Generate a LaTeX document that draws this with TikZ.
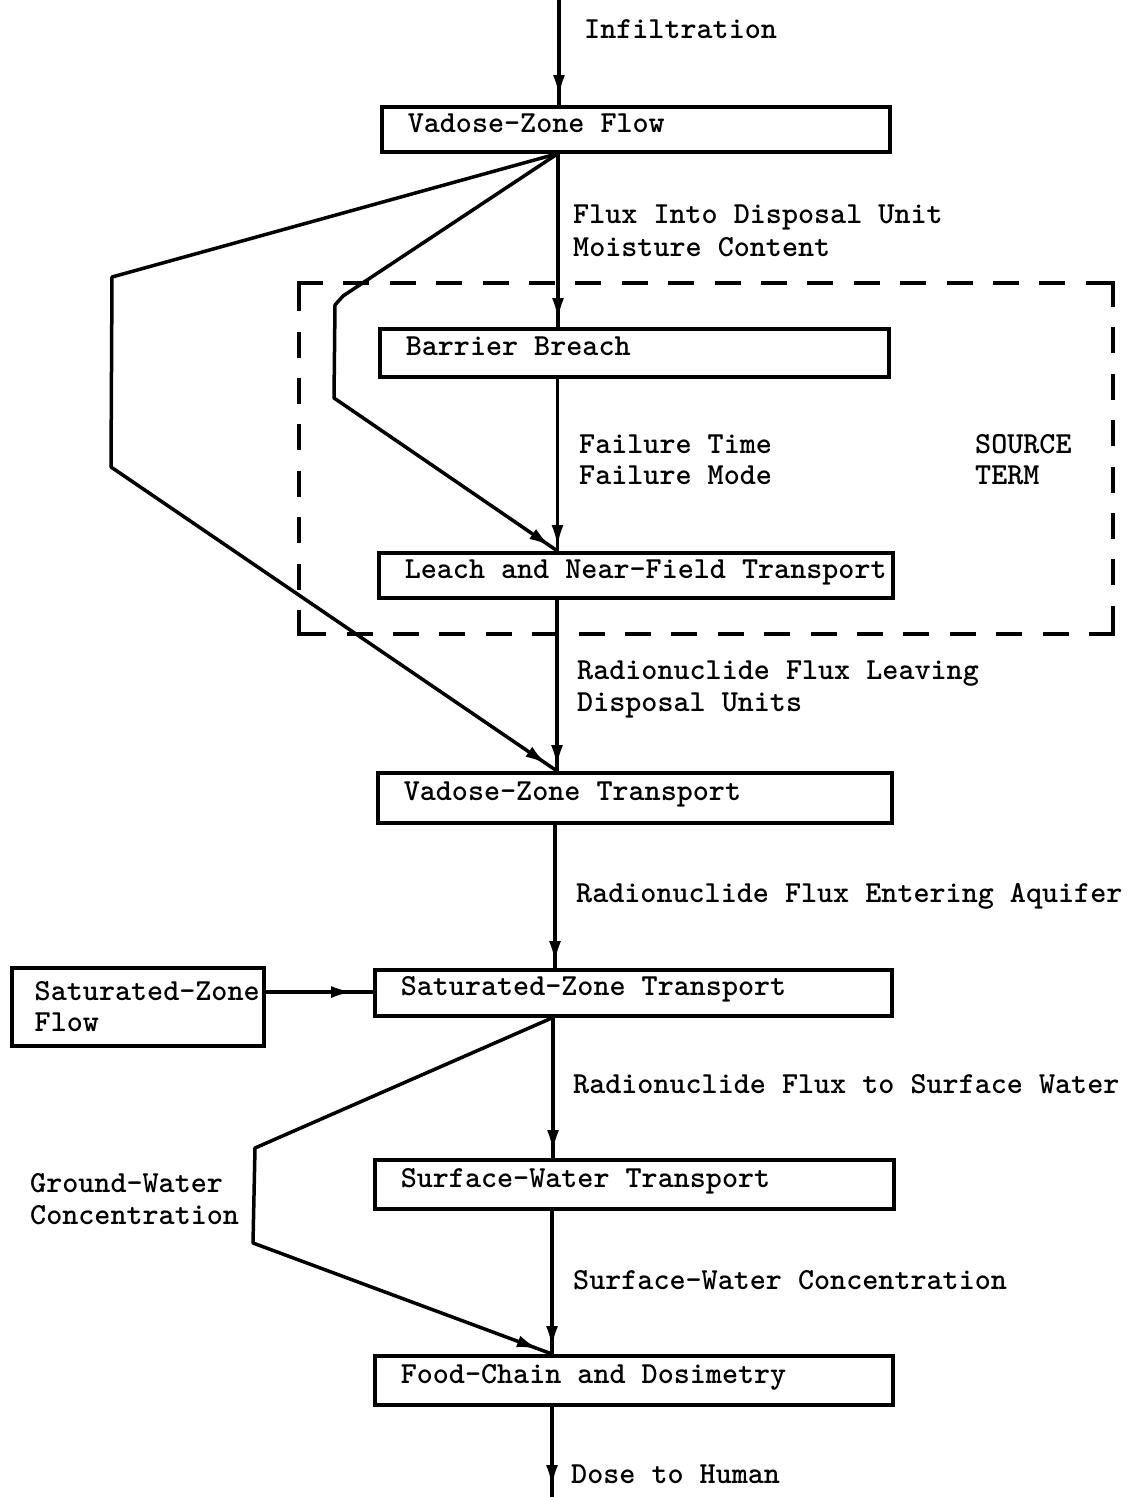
\documentclass[tikz,border=0pt]{standalone}
\usetikzlibrary{arrows.meta,decorations.markings}
\begin{document}
\begin{tikzpicture}[x=1pt,y=-1pt,
  every node/.style={font=\ttfamily\bfseries\fontsize{30.6}{31}\selectfont},
  box/.style={draw, line width=3.5pt, anchor=north west, inner xsep=0pt, inner ysep=0pt,
    align=left, text height=0.78em, text depth=0.16em,
    execute at begin node={\spaceskip=0pt\relax\xspaceskip=0pt\relax\hspace*{26pt}\hbox\bgroup},
    execute at end node={\egroup}},
  lbl/.style={anchor=base west, inner sep=0pt},
  conn/.style={line width=3.5pt},
  arrowat/.style={postaction={decorate,decoration={markings,
    mark=at position #1 with {\arrow{Latex[length=22pt,width=12pt]}}}}},
  dashside/.style={line width=4pt, line cap=rect, dash pattern=on 22pt off 24.4pt},
]
\fill[white] (0,0) rectangle (1133,1497);
\useasboundingbox (0,0) rectangle (1133,1497);

% boxes
\node[box, text width=508pt, minimum height=45pt] (vzf) at (380,105) {Vadose-Zone Flow};
\node[box, text width=509pt, minimum height=48pt] (bb) at (378,327) {Barrier Breach};
\node[box, text width=514pt, minimum height=45pt] (leach) at (377,551) {Leach and Near-Field Transport};
\node[box, text width=514pt, minimum height=50pt] (vzt) at (376,771) {Vadose-Zone Transport};
\node[box, text width=517pt, minimum height=46pt] (szt) at (373,968) {Saturated-Zone Transport};
\node[box, text width=519pt, minimum height=49pt] (swt) at (373,1158) {Surface-Water Transport};
\node[box, text width=518pt, minimum height=49pt] (fcd) at (373,1354) {Food-Chain and Dosimetry};
\node[draw, line width=3.5pt, anchor=north west, inner sep=0pt, align=flush left,
      text width=252pt, minimum height=78pt] (szf) at (10,966)
      {\hspace*{23pt}Saturated-Zone\\\hspace*{23pt}Flow};

% source term dashed frame
\coordinate (d1) at (299,283);
\coordinate (d2) at (1113,283);
\coordinate (d3) at (1113,634);
\coordinate (d4) at (299,634);
\draw[dashside] (d1) -- (d2);
\draw[dashside] (d2) -- (d3);
\draw[dashside] (d3) -- (d4);
\draw[dashside] (d4) -- (d1);

% x positions of the main vertical line (scan drifts slightly)
\coordinate (xa) at (559,0);
\coordinate (xb) at (558,0);
\coordinate (xc) at (557.5,0);
\coordinate (xd) at (557,0);
\coordinate (xe) at (555,0);
\coordinate (xf) at (553,0);
\coordinate (xg) at (552,0);
\coordinate (top) at (559,0);
\coordinate (bot) at (552,1497);

% main chain
\draw[conn, arrowat=-8pt] (top) -- (vzf.north -| xa);
\draw[conn, arrowat=-7pt] (vzf.south -| xb) -- (bb.north -| xb);
\draw[conn, arrowat=-4pt] (bb.south -| xc) -- (leach.north -| xc);
\draw[conn, arrowat=-4pt] (leach.south -| xd) -- (vzt.north -| xd);
\draw[conn, arrowat=-5pt] (vzt.south -| xe) -- (szt.north -| xe);
\draw[conn, arrowat=-6pt] (szt.south -| xf) -- (swt.north -| xf);
\draw[conn, arrowat=-6pt] (swt.south -| xg) -- (fcd.north -| xg);
\draw[conn, arrowat=-10pt] (fcd.south -| xg) -- (bot);

% bypasses
\coordinate (o1) at (112,277);
\coordinate (o2) at (111,467);
\draw[conn, line join=round, arrowat=-12pt] (vzf.south -| xb) -- (o1) -- (o2) -- (vzt.north -| xd);
\coordinate (i1) at (343,296);
\coordinate (i2) at (335,305);
\coordinate (i3) at (334,398);
\draw[conn, line join=round, arrowat=-8pt] (vzf.south -| xb) -- (i1) -- (i2) -- (i3) -- (leach.north -| xc);
\coordinate (g1) at (255,1148);
\coordinate (g2) at (253,1243);
\draw[conn, line join=round, arrowat=-14pt] (szt.south -| xf) -- (g1) -- (g2) -- (fcd.north -| xg);

% saturated-zone flow input
\coordinate (sy) at (0,992);
\draw[conn, arrowat=-20pt] (szf.east |- sy) -- (szt.west |- sy);

% labels
\node[lbl] (l1) at (584,38) {Infiltration};
\node[lbl] (l2) at (573,223) {Flux Into Disposal Unit};
\node[lbl] (l3) at (573,256) {Moisture Content};
\node[lbl] (l4) at (579,453) {Failure Time};
\node[lbl] (l5) at (579,484) {Failure Mode};
\node[lbl] (l6) at (975,453) {SOURCE};
\node[lbl] (l7) at (975,484) {TERM};
\node[lbl] (l8) at (577,679) {Radionuclide Flux Leaving};
\node[lbl] (l9) at (577,711) {Disposal Units};
\node[lbl] (l10) at (576,902) {Radionuclide Flux Entering Aquifer};
\node[lbl] (l11) at (573,1093) {Radionuclide Flux to Surface Water};
\node[lbl] (l12) at (30,1192) {Ground-Water};
\node[lbl] (l13) at (30,1224) {Concentration};
\node[lbl] (l14) at (573,1289) {Surface-Water Concentration};
\node[lbl] (l15) at (571,1483) {Dose to Human};
\end{tikzpicture}
\end{document}
